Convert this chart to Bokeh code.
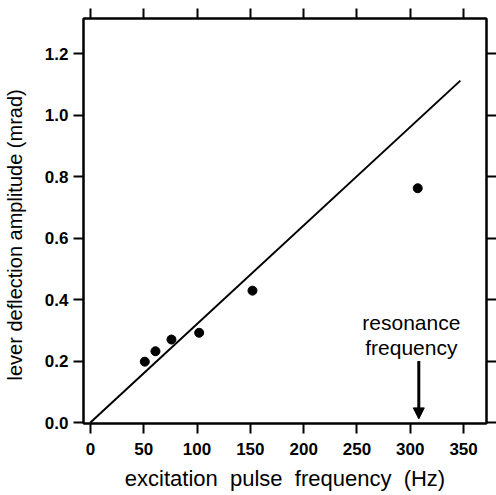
from bokeh.plotting import figure
from bokeh.models import LinearAxis, FixedTicker, PrintfTickFormatter, Range1d, Arrow, NormalHead, CustomJSTickFormatter
from bokeh.core.properties import value
from bokeh.embed import file_html
from bokeh.resources import INLINE

# data
freq_hz = [51, 61, 76, 102, 152, 307]
amplitude_mrad = [0.198, 0.232, 0.270, 0.292, 0.429, 0.762]
fit_x = [0, 347]
fit_y = [0, 1.112]
resonance_x = 308
arrow_y = [0.2, 0.012]
note_x = [301, 301]
note_y = [0.325, 0.243]
note_text = ["resonance", "frequency"]
x_ticks = [0, 50, 100, 150, 200, 250, 300, 350]
y_ticks = [0.0, 0.2, 0.4, 0.6, 0.8, 1.0, 1.2]

FONT = "Liberation Sans"
NB = "\u00a0"

p = figure(width=496, height=495, output_backend="svg", toolbar_location=None,
           x_range=Range1d(-6.5, 371.5), y_range=Range1d(-0.003, 1.314),
           min_border_left=83, min_border_top=18, min_border_right=8, min_border_bottom=72)
p.xgrid.visible = False
p.ygrid.visible = False
p.outline_line_color = "black"
p.outline_line_width = 2
p.background_fill_color = "white"
p.border_fill_color = "white"

def style(ax, labels=True):
    ax.axis_line_width = 2
    ax.axis_line_color = "black"
    ax.major_tick_line_width = 2
    ax.major_tick_line_color = "black"
    ax.major_tick_out = 10
    ax.major_tick_in = 0
    ax.minor_tick_line_color = None
    ax.major_label_text_font = FONT
    ax.major_label_text_font_style = "bold"
    ax.major_label_text_font_size = "17px"
    ax.major_label_text_color = "black"
    ax.major_label_standoff = 5
    ax.axis_label_text_font = FONT
    ax.axis_label_text_font_style = "normal"
    ax.axis_label_text_font_size = "21px"
    ax.axis_label_text_color = "black"
    ax.axis_label_standoff = 10
    if not labels:
        ax.major_label_text_color = None
        ax.major_label_standoff = 0
        ax.formatter = CustomJSTickFormatter(code="return ''")

xb = p.xaxis[0]
xb.ticker = FixedTicker(ticks=x_ticks)
xb.axis_label = (NB * 2).join(["excitation", "pulse", "frequency", "(Hz)"])
style(xb)
xb.major_label_standoff = 9
xb.axis_label_standoff = 8
xb.axis_label_text_font_size = "22px"

yl = p.yaxis[0]
yl.ticker = FixedTicker(ticks=y_ticks)
yl.formatter = PrintfTickFormatter(format="%.1f")
yl.axis_label = "lever deflection amplitude (mrad)" + NB * 5
style(yl)
yl.axis_label_standoff = 16
yl.axis_label_text_font_size = "20px"

xt = LinearAxis(ticker=FixedTicker(ticks=x_ticks))
style(xt, labels=False)
p.add_layout(xt, "above")
yr = LinearAxis(ticker=FixedTicker(ticks=y_ticks))
style(yr, labels=False)
p.add_layout(yr, "right")

p.line(fit_x, fit_y, line_color="black", line_width=2)
p.scatter(freq_hz, amplitude_mrad, size=9, color="black")

p.add_layout(Arrow(end=NormalHead(size=11, fill_color="black", line_color="black", line_width=1),
                   x_start=resonance_x, y_start=arrow_y[0], x_end=resonance_x, y_end=arrow_y[1],
                   line_color="black", line_width=3))
p.text(note_x, note_y, text=note_text, text_align="center", text_baseline="middle",
       text_font=value(FONT), text_font_size="21px", text_color="black")

open("out.html", "w").write(file_html(p, INLINE))
